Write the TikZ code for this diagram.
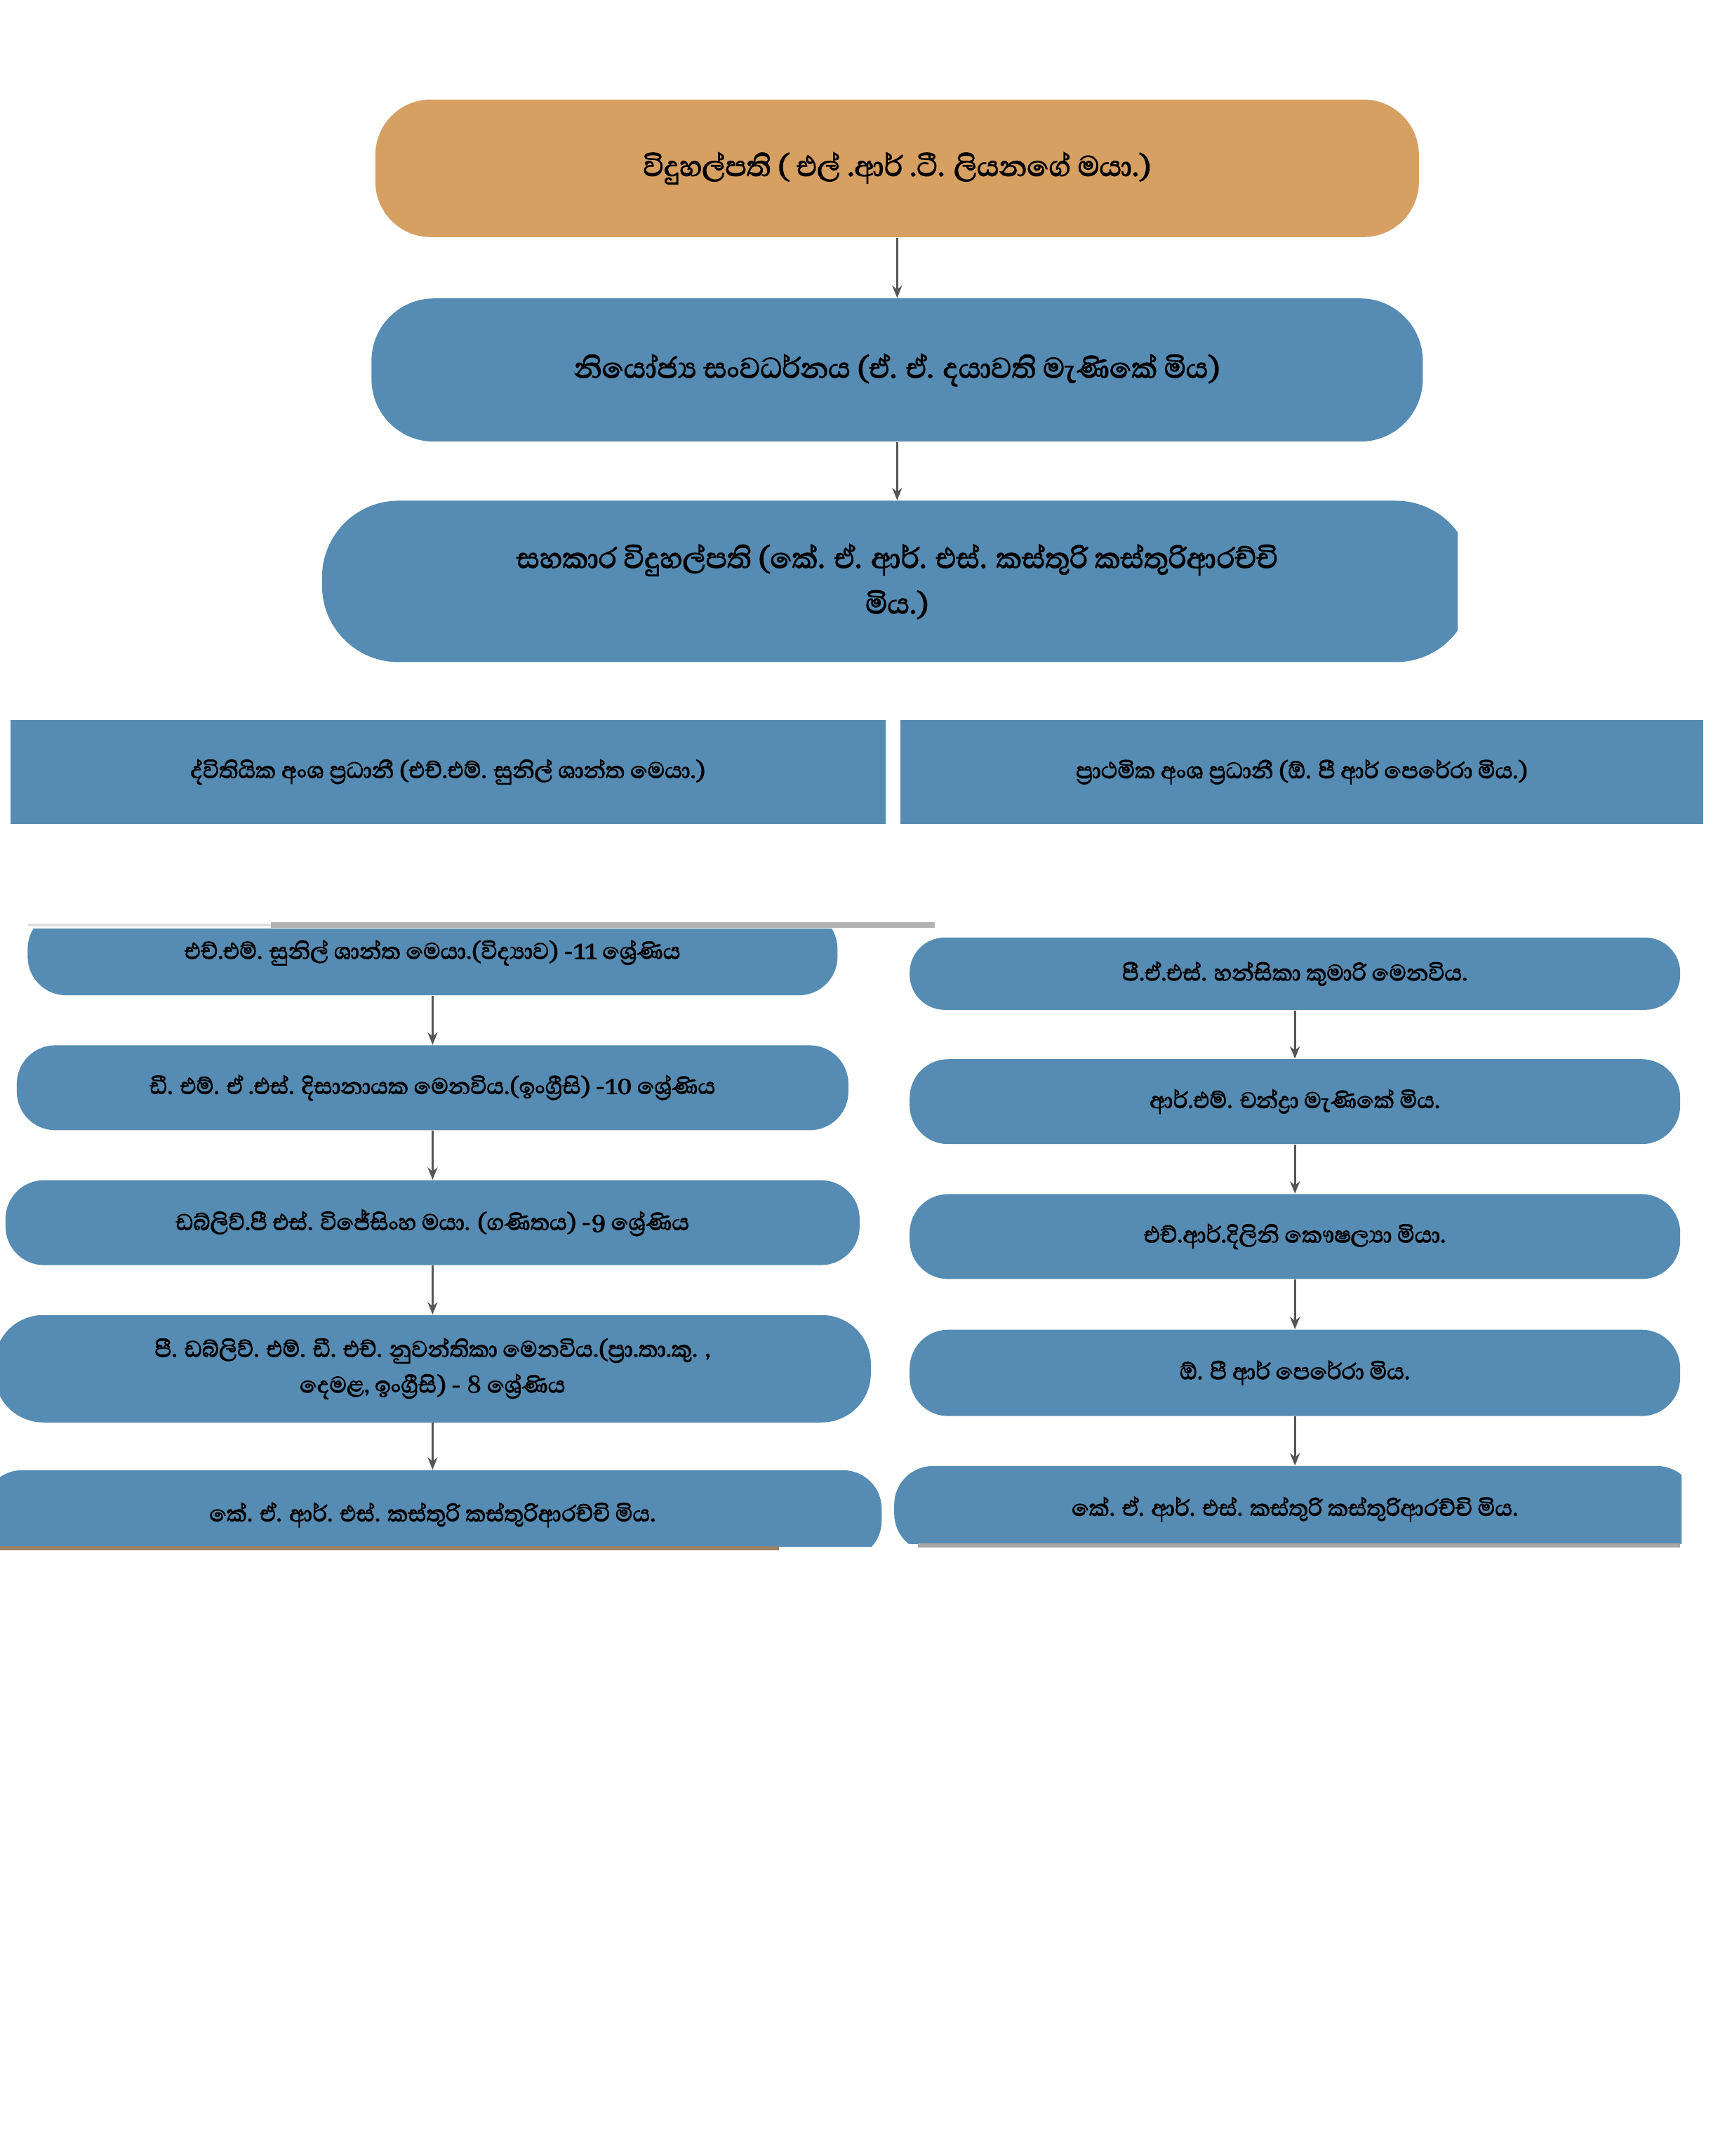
\documentclass[tikz,border=0pt]{standalone}
\usepackage{fontspec}
\newfontfamily\sinhalafont[Script=Sinhala,FakeBold=2.5]{Abhaya Libre}
\usetikzlibrary{arrows.meta}
\definecolor{headorange}{HTML}{D6A063}
\definecolor{boxblue}{HTML}{568CB3}
\definecolor{arrowgray}{HTML}{555555}

\begin{document}
\begin{tikzpicture}[x=0.1982mm,y=-0.1982mm,
      every node/.style={inner sep=2pt,align=center,font=\sinhalafont\fontsize{11.6}{14.5}\selectfont},
      big/.style={font=\sinhalafont\fontsize{14.7}{18.5}\selectfont},
      pill/.style={fill=boxblue,rounded corners=5.5mm,minimum height=12.1mm},
      headbox/.style={fill=boxblue,minimum height=14.8mm},
      link/.style={->,draw=arrowgray,line width=0.8pt},
      >={Stealth[width=4pt,length=5pt]}]
  \useasboundingbox (0,0) rectangle (1240,1550);
  \node[big,fill=headorange,rounded corners=7.9mm,minimum width=148.7mm,minimum height=19.6mm] (princ) at (645,121)
     {විදුහල්පති ( එල් .ආර් .ටී. ලියනගේ මයා.)};
  \node[big,fill=boxblue,rounded corners=8.9mm,minimum width=149.8mm,minimum height=20.4mm] (dep) at (645,266)
     {නියෝජ්‍ය සංවධර්නය (ඒ. ඒ. දයාවති මැණිකේ මිය)};
  \begin{scope}
    \clip (0,0) rectangle (1048,1550);
    \node[big,fill=boxblue,rounded corners=10.9mm,minimum width=163.9mm,minimum height=23mm] (asst) at (645,418)
       {සහකාර විදුහල්පති (කේ. ඒ. ආර්. එස්. කස්තුරි කස්තුරිආරච්චි\\ මිය.)};
  \end{scope}
  \node[headbox,minimum width=124.7mm] (sec) at (322,555) {ද්විතියික අංශ ප්‍රධානී (එච්.එම්. සුනිල් ශාන්ත මෙයා.)};
  \node[headbox,minimum width=114.4mm] (prim) at (936,555) {ප්‍රාථමික අංශ ප්‍රධානී (ඕ. පී ආර් පෙරේරා මිය.)};
  \draw[gray!25,line width=1pt] (20,665) -- (195,665);
  \draw[gray!60,line width=2pt] (195,665) -- (672,665);
  \begin{scope}
    \clip (0,668) rectangle (1240,1550);
    \node[pill,minimum width=115.4mm] (l1) at (311,685) {එච්.එම්. සුනිල් ශාන්ත මෙයා.(විද්‍යාව) -11 ශ්‍රේණිය};
  \end{scope}
  \node[pill,minimum width=118.5mm] (l2) at (311,782) {ඩී. එම්. ඒ .එස්. දිසානායක මෙනවිය.(ඉංග්‍රීසි) -10 ශ්‍රේණිය};
  \node[pill,minimum width=121.7mm] (l3) at (311,879) {ඩබ්ලිව්.පී එස්. විජේසිංහ මයා. (ගණිතය) -9 ශ්‍රේණිය};
  \node[pill,minimum width=124.9mm,minimum height=15.3mm,rounded corners=7mm] (l4) at (311,984)
     {පී. ඩබ්ලිව්. එම්. ඩී. එච්. නුවන්තිකා මෙනවිය.(ප්‍රා.තා.කු. ,\\ දෙමළ, ඉංග්‍රීසි) - 8 ශ්‍රේණිය};
  \begin{scope}
    \clip (0,0) rectangle (1240,1112);
    \node[pill,minimum width=128mm,minimum height=12.7mm] (l5) at (311,1089) {කේ. ඒ. ආර්. එස්. කස්තුරි කස්තුරිආරච්චි මිය.};
  \end{scope}
  \draw[brown!40!gray,line width=1.5pt] (0,1113) -- (560,1113);
  \node[pill,minimum width=109.8mm,minimum height=10.3mm,rounded corners=5mm] (r1) at (931,700) {පී.ඒ.එස්. හන්සිකා කුමාරි මෙනවිය.};
  \node[pill,minimum width=109.8mm] (r2) at (931,792) {ආර්.එම්. චන්ද්‍රා මැණිකේ මිය.};
  \node[pill,minimum width=109.8mm] (r3) at (931,889) {එච්.ආර්.දිලිනි කෞෂල්‍යා මියා.};
  \node[pill,minimum width=109.8mm,minimum height=12.3mm] (r4) at (931,987) {ඕ. පී ආර් පෙරේරා මිය.};
  \begin{scope}
    \clip (0,0) rectangle (1209,1110);
    \node[pill,minimum width=114.2mm,minimum height=12.3mm] (r5) at (931,1085) {කේ. ඒ. ආර්. එස්. කස්තුරි කස්තුරිආරච්චි මිය.};
  \end{scope}
  \draw[gray!70,line width=1.5pt] (660,1111) -- (1208,1111);
  \foreach \a/\b in {princ/dep,dep/asst,l1/l2,l2/l3,l3/l4,l4/l5,r1/r2,r2/r3,r3/r4,r4/r5}
    \draw[link] (\a) -- (\b);
\end{tikzpicture}
\end{document}
